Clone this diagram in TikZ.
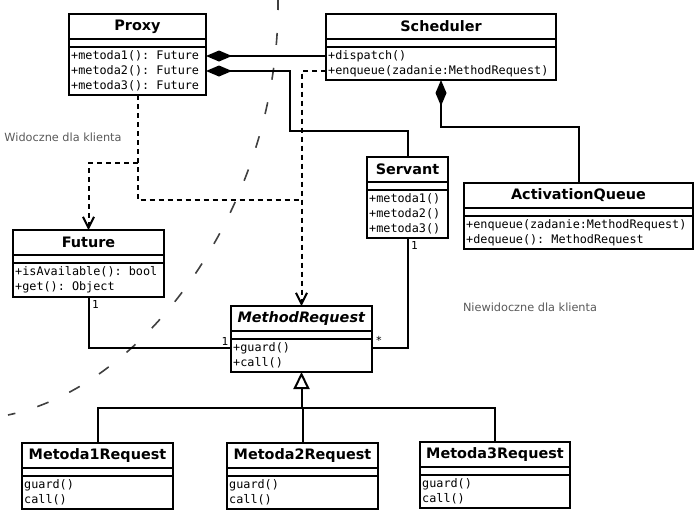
\documentclass[tikz,border=0pt]{standalone}
\usepackage{fontspec}
\setmainfont{DejaVu Sans}
\setmonofont{DejaVu Sans Mono}
\usetikzlibrary{arrows.meta}

% class box: name, x, y (top), width, body height, title, operations
\newcommand{\umlclass}[7]{%
  \node[classtitle, minimum width=#4, anchor=north west] (#1-t) at (#2,#3) {#6};
  \node[classgap, minimum width=#4, anchor=north] (#1-g) at (#1-t.south) {};
  \node[classbody, minimum width=#4, minimum height=#5, anchor=north] (#1) at (#1-g.south) {};
  \node[classops] (#1-o) at (#1.north west) {#7};
}

\begin{document}
\begin{tikzpicture}[x=1pt, y=-1pt,
    classtitle/.style={draw, line width=2pt, minimum height=25pt, inner sep=0pt, outer sep=0pt,
      font=\bfseries\fontsize{14.4}{16}\selectfont},
    classgap/.style={draw, line width=2pt, minimum height=8pt, inner sep=0pt, outer sep=0pt},
    classbody/.style={draw, line width=2pt, inner sep=0pt, outer sep=0pt},
    classops/.style={anchor=north west, inner xsep=2pt, inner ysep=3.5pt, align=left,
      font=\ttfamily\fontsize{11.8}{14.8}\selectfont},
    compline/.style={line width=2pt, {Diamond[length=26pt,width=11pt]}-},
    depline/.style={line width=2pt, dash pattern=on 5pt off 4pt},
    deparrow/.style={-{Straight Barb[length=11pt,width=11pt]}},
    assocline/.style={line width=2pt},
    gentip/.style={-{Triangle[open,length=17pt,width=16pt]}},
    mult/.style={font=\ttfamily\fontsize{11}{13}\selectfont, inner sep=0pt},
    hint/.style={font=\fontsize{11.3}{13}\selectfont, text=black!65},
    boundary/.style={black!75, line width=1.6pt, dash pattern=on 12pt off 23pt, dash phase=2pt}]
    \useasboundingbox (0,0) rectangle (694,512);

    % client boundary
    \draw[boundary] (278,0) .. controls (280,200) and (150,385) .. (8,415);
    \node[hint] (vis) at (63,137) {Widoczne dla klienta};
    \node[hint] (invis) at (530,307) {Niewidoczne dla klienta};

    % classes
    \umlclass{proxy}{69}{14}{137}{48}{Proxy}{+metoda1(): Future\\+metoda2(): Future\\+metoda3(): Future}
    \umlclass{sched}{326}{14}{230}{33}{Scheduler}{+dispatch()\\+enqueue(zadanie:MethodRequest)}
    \umlclass{servant}{367}{157}{81}{48}{Servant}{+metoda1()\\+metoda2()\\+metoda3()}
    \umlclass{aq}{464}{183}{229}{33}{ActivationQueue}{+enqueue(zadanie:MethodRequest)\\+dequeue(): MethodRequest}
    \umlclass{future}{13}{230}{151}{34}{Future}{+isAvailable(): bool\\+get(): Object}
    \umlclass{mr}{231}{306}{141}{33}{\textit{MethodRequest}}{+guard()\\+call()}
    \umlclass{m1}{22}{443}{151}{33}{Metoda1Request}{guard()\\call()}
    \umlclass{m2}{227}{443}{151}{33}{Metoda2Request}{guard()\\call()}
    \umlclass{m3}{420}{442}{150}{33}{Metoda3Request}{guard()\\call()}

    % compositions
    \draw[compline] ([yshift=-9pt]proxy.north east) -- ([yshift=-9pt]sched.north west);
    \draw[compline] ([yshift=-24pt]proxy.north east) -| (290,131) -| (servant-t.north);
    \draw[compline] (sched.south) -- (sched.south |- 0,127) -| (aq-t.north);

    % dependencies
    \draw[depline, deparrow] ([yshift=-24pt]sched.north west) -| (mr-t.north);
    \draw[depline] (proxy.south) |- (mr-t.north |- 0,200);
    \draw[depline, deparrow] (proxy.south |- 0,163) -| (future-t.north);

    % associations
    \draw[assocline] (future.south) |- ([yshift=-9pt]mr.north west);
    \draw[assocline] (servant.south) |- ([yshift=-9pt]mr.north east);
    \node[mult] (mf1) at ([shift={(7,7)}]future.south) {1};
    \node[mult] (mf2) at ([shift={(-6,-7)}]mr.north west |- 0,348) {1};
    \node[mult] (ms1) at ([shift={(7,7)}]servant.south) {1};
    \node[mult] (ms2) at ([shift={(7,-8)}]mr.north east |- 0,348) {*};

    % generalization
    \draw[assocline] (m1-t.north) |- (m3-t.north |- 0,408) -- (m3-t.north);
    \draw[assocline] (m2-t.north) -- (m2-t.north |- 0,408);
    \draw[assocline, gentip] (mr.south |- 0,408) -- (mr.south);
\end{tikzpicture}
\end{document}
